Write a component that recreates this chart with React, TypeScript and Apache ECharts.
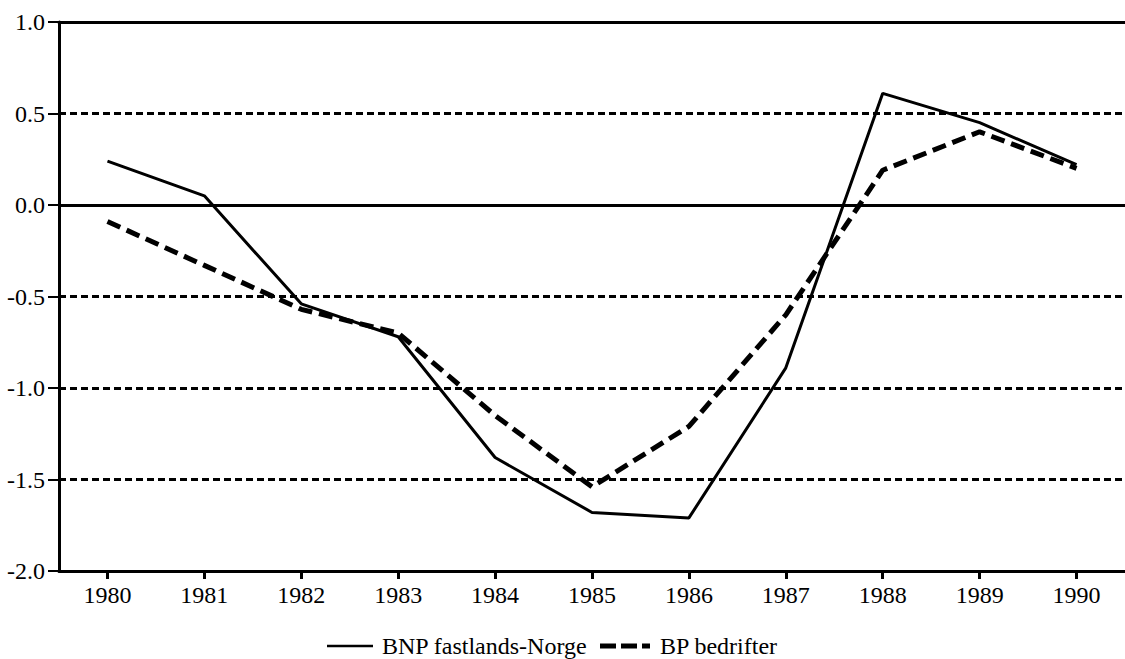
import React, { useEffect, useRef } from "react";
import * as echarts from "echarts";

const years = ["1980", "1981", "1982", "1983", "1984", "1985", "1986", "1987", "1988", "1989", "1990"];
const bnpFastlandsNorge = [0.24, 0.05, -0.54, -0.72, -1.38, -1.68, -1.71, -0.89, 0.61, 0.45, 0.22];
const bpBedrifter = [-0.09, -0.33, -0.57, -0.7, -1.15, -1.54, -1.21, -0.6, 0.19, 0.4, 0.2];
const seriesNames = ["BNP fastlands-Norge", "BP bedrifter"];

const FONT = "Times New Roman, Liberation Serif, Times, serif";
const FS = 24;

export default function App() {
  const ref = useRef<HTMLDivElement>(null);
  useEffect(() => {
    if (!ref.current) return;
    const chart = echarts.init(ref.current, null, { renderer: "svg" });
    const ly = 646;
    chart.setOption({
      animation: false,
      backgroundColor: "#ffffff",
      textStyle: { fontFamily: FONT },
      grid: { left: 59, top: 22, right: -10, bottom: 88, containLabel: false },
      legend: { show: false },
      xAxis: [
        {
          type: "category",
          data: years,
          boundaryGap: true,
          axisLine: { show: true, onZero: false, lineStyle: { color: "#000", width: 3 } },
          axisTick: { show: true, alignWithLabel: true, length: 8, lineStyle: { color: "#000", width: 3 } },
          axisLabel: { fontFamily: FONT, fontSize: FS, color: "#000", margin: 12 },
          splitLine: { show: false },
        },
        {
          type: "category",
          data: years,
          position: "top",
          axisLine: { show: true, onZero: false, lineStyle: { color: "#000", width: 3 } },
          axisTick: { show: false },
          axisLabel: { show: false },
        },
      ],
      yAxis: {
        type: "value",
        min: -2,
        max: 1,
        interval: 0.5,
        axisLine: { show: true, lineStyle: { color: "#000", width: 3 } },
        axisTick: { show: true, length: 11, lineStyle: { color: "#000", width: 2 } },
        axisLabel: {
          fontFamily: FONT,
          fontSize: FS,
          color: "#000",
          margin: 14,
          formatter: (v: number) => v.toFixed(1),
        },
        splitLine: { show: true, lineStyle: { color: "#000", width: 3, type: [7, 4] } },
      },
      graphic: [
        { type: "line", shape: { x1: 327, y1: ly, x2: 373, y2: ly }, style: { stroke: "#000", lineWidth: 2.5 } },
        {
          type: "text",
          x: 382,
          y: ly,
          style: { text: seriesNames[0], fontFamily: FONT, fontSize: FS, fill: "#000", verticalAlign: "middle", align: "left" },
        },
        {
          type: "line",
          shape: { x1: 600, y1: ly, x2: 650, y2: ly },
          style: { stroke: "#000", lineWidth: 5, lineDash: [16, 5] },
        },
        {
          type: "text",
          x: 660,
          y: ly,
          style: { text: seriesNames[1], fontFamily: FONT, fontSize: FS, fill: "#000", verticalAlign: "middle", align: "left" },
        },
      ],
      series: [
        {
          name: seriesNames[0],
          type: "line",
          data: bnpFastlandsNorge,
          symbol: "none",
          lineStyle: { color: "#000", width: 3, type: "solid" },
          itemStyle: { color: "#000" },
          markLine: {
            silent: true,
            symbol: "none",
            label: { show: false },
            lineStyle: { color: "#000", width: 3, type: "solid" },
            data: [{ yAxis: 0 }],
          },
        },
        {
          name: seriesNames[1],
          type: "line",
          data: bpBedrifter,
          symbol: "none",
          lineStyle: { color: "#000", width: 5, type: [14, 7] },
          itemStyle: { color: "#000" },
        },
      ],
    });
    return () => chart.dispose();
  }, []);
  return <div ref={ref} style={{ width: 1125, height: 659, position: "absolute", left: 0, top: 0 }} />;
}
